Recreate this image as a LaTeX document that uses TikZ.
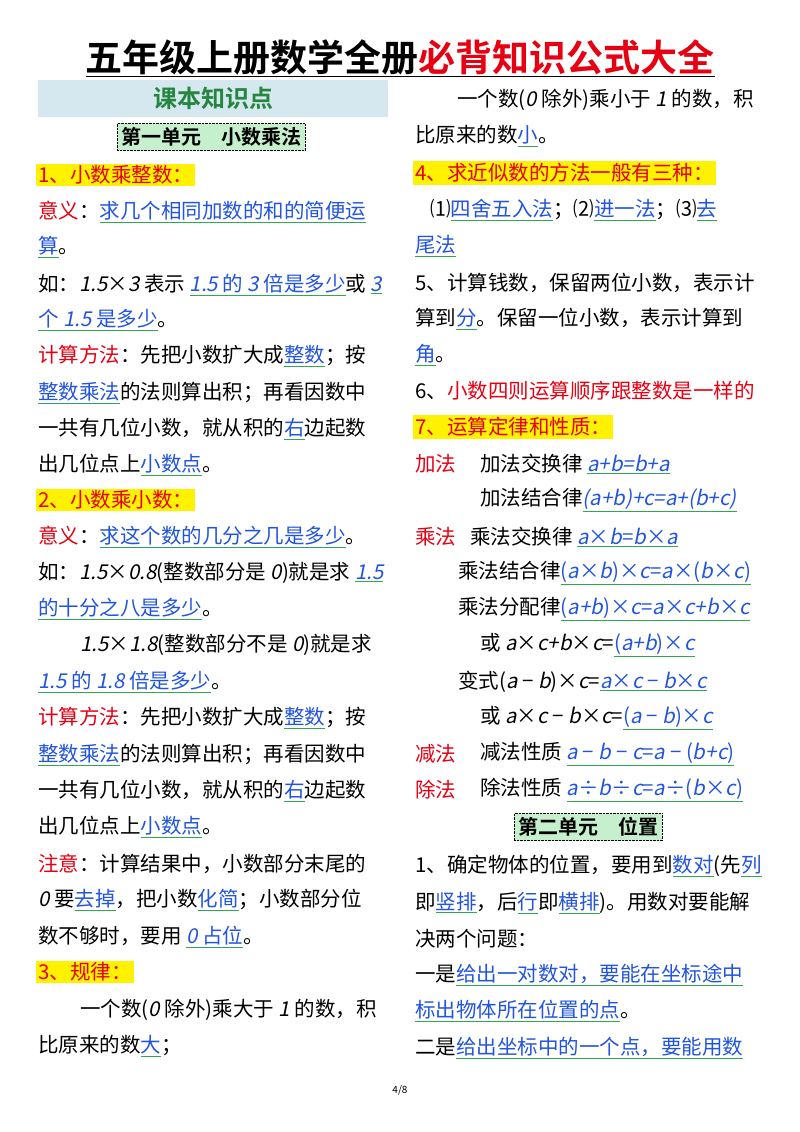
\documentclass[tikz,border=0pt]{standalone}
\usepackage{fontspec}
\setmainfont{Noto Sans CJK SC}[ItalicFont=Noto Sans CJK SC, ItalicFeatures={FakeSlant=0.2}, BoldFont=Noto Sans CJK SC Bold]
\definecolor{rd}{HTML}{E60012}
\definecolor{ansb}{HTML}{2255DD}
\definecolor{ulg}{HTML}{2FA84F}
\definecolor{secg}{HTML}{C6EFCE}
\definecolor{lbl}{HTML}{D5E8F0}
\newcommand\ans[1]{\textcolor{ulg}{\underline{\textcolor{ansb}{#1}}}}
\newcommand\R[1]{\textcolor{rd}{#1}}
\newcommand\I[1]{\textit{#1}}
\tikzset{
 txt/.style={anchor=west,inner sep=0pt,font=\fontsize{20.5}{23}\selectfont},
 hl/.style={anchor=west,inner sep=2pt,fill=yellow,text=rd,font=\fontsize{20.5}{23}\selectfont},
 sec/.style={draw,densely dotted,fill=secg,inner sep=4pt,font=\bfseries\fontsize{20}{22}\selectfont},
}
\begin{document}
\begin{tikzpicture}[x=1pt,y=-1pt]
\useasboundingbox (0,0) rectangle (800,1132);
\node[inner sep=0pt,font=\bfseries\fontsize{37}{40}\selectfont] (title) at (400,58) {\underline{五年级上册数学全册\textcolor{rd}{必背知识公式大全}}};
\node[fill=lbl,minimum width=350,minimum height=37,inner sep=0pt,text=ulg!80!black,font=\bfseries\fontsize{24}{26}\selectfont] (kb) at (213,98) {课本知识点};
\node[sec] (s1) at (211,137) {第一单元\quad 小数乘法};
% left column
\node[hl] (a1) at (36,175) {1、小数乘整数：};
\node[txt] (a2) at (38,212) {\R{意义}：\ans{求几个相同加数的和的简便运}};
\node[txt] (a3) at (38,247) {\ans{算}。};
\node[txt] (a4) at (38,285) {如：\I{1.5}×\I{3} 表示 \ans{\I{1.5} 的 \I{3} 倍是多少}或 \ans{\I{3}}};
\node[txt] (a5) at (38,320) {\ans{个 \I{1.5} 是多少}。};
\node[txt] (a6) at (38,356) {\R{计算方法}：先把小数扩大成\ans{整数}；按};
\node[txt] (a7) at (38,393) {\ans{整数乘法}的法则算出积；再看因数中};
\node[txt] (a8) at (38,429) {一共有几位小数，就从积的\ans{右}边起数};
\node[txt] (a9) at (38,465) {出几位点上\ans{小数点}。};
\node[hl] (b1) at (36,500) {2、小数乘小数：};
\node[txt] (b2) at (38,537) {\R{意义}：\ans{求这个数的几分之几是多少}。};
\node[txt] (b3) at (38,573) {如：\I{1.5}×\I{0.8}(整数部分是 \I{0})就是求 \ans{\I{1.5}}};
\node[txt] (b4) at (38,609) {\ans{的十分之八是多少}。};
\node[txt] (b5) at (80,645) {\I{1.5}×\I{1.8}(整数部分不是 \I{0})就是求};
\node[txt] (b6) at (38,682) {\ans{\I{1.5} 的 \I{1.8} 倍是多少}。};
\node[txt] (b7) at (38,718) {\R{计算方法}：先把小数扩大成\ans{整数}；按};
\node[txt] (b8) at (38,755) {\ans{整数乘法}的法则算出积；再看因数中};
\node[txt] (b9) at (38,791) {一共有几位小数，就从积的\ans{右}边起数};
\node[txt] (b10) at (38,827) {出几位点上\ans{小数点}。};
\node[txt] (b11) at (38,864) {\R{注意}：计算结果中，小数部分末尾的};
\node[txt] (b12) at (38,900) {\I{0} 要\ans{去掉}，把小数\ans{化简}；小数部分位};
\node[txt] (b13) at (38,937) {数不够时，要用 \ans{\I{0} 占位}。};
\node[hl] (c1) at (36,972) {3、规律：};
\node[txt] (c2) at (80,1010) {一个数(\I{0} 除外)乘大于 \I{1} 的数，积};
\node[txt] (c3) at (38,1046) {比原来的数\ans{大}；};
% right column
\node[txt] (r1) at (457,100) {一个数(\I{0} 除外)乘小于 \I{1} 的数，积};
\node[txt] (r2) at (415,136) {比原来的数\ans{小}。};
\node[hl] (r3) at (413,173) {4、求近似数的方法一般有三种：};
\node[txt] (r4) at (430,210) {⑴\ans{四舍五入法}；⑵\ans{进一法}；⑶\ans{去}};
\node[txt] (r5) at (415,246) {\ans{尾法}};
\node[txt] (r6) at (415,283) {5、计算钱数，保留两位小数，表示计};
\node[txt] (r7) at (415,319) {算到\ans{分}。保留一位小数，表示计算到};
\node[txt] (r8) at (415,355) {\ans{角}。};
\node[txt] (r9) at (415,391) {6、\R{小数四则运算顺序跟整数是一样的}};
\node[hl] (r10) at (413,427) {7、运算定律和性质：};
\node[txt] (r11a) at (415,464) {\R{加法}};
\node[txt] (r11) at (480,464) {加法交换律 \ans{\I{a+b=b+a}}};
\node[txt] (r12) at (480,500) {加法结合律\ans{\I{(a+b)+c=a+(b+c)}}};
\node[txt] (r13a) at (415,537) {\R{乘法}};
\node[txt] (r13) at (470,537) {乘法交换律 \ans{\I{a}×\I{b}=\I{b}×\I{a}}};
\node[txt] (r14) at (458,573) {乘法结合律\ans{(\I{a}×\I{b})×\I{c}=\I{a}×(\I{b}×\I{c})}};
\node[txt] (r15) at (458,609) {乘法分配律\ans{(\I{a+b})×\I{c}=\I{a}×\I{c+b}×\I{c}}};
\node[txt] (r16) at (480,645) {或 \I{a}×\I{c+b}×\I{c}=\ans{(\I{a+b})×\I{c}}};
\node[txt] (r17) at (458,682) {变式(\I{a} − \I{b})×\I{c}=\ans{\I{a}×\I{c} − \I{b}×\I{c}}};
\node[txt] (r18) at (480,718) {或 \I{a}×\I{c} − \I{b}×\I{c}=\ans{(\I{a} − \I{b})×\I{c}}};
\node[txt] (r19a) at (415,754) {\R{减法}};
\node[txt] (r19) at (480,754) {减法性质 \ans{\I{a} − \I{b} − \I{c}=\I{a} − (\I{b+c})}};
\node[txt] (r20a) at (415,790) {\R{除法}};
\node[txt] (r20) at (480,790) {除法性质 \ans{\I{a}÷\I{b}÷\I{c}=\I{a}÷(\I{b}×\I{c})}};
\node[sec] (s2) at (588,827) {第二单元\quad 位置};
\node[txt] (r21) at (415,866) {1、确定物体的位置，要用到\ans{数对}(先\ans{列}};
\node[txt] (r22) at (415,903) {即\ans{竖排}，后\ans{行}即\ans{横排})。用数对要能解};
\node[txt] (r23) at (415,939) {决两个问题：};
\node[txt] (r24) at (415,975) {一是\ans{给出一对数对，要能在坐标途中}};
\node[txt] (r25) at (415,1011) {\ans{标出物体所在位置的点}。};
\node[txt] (r26) at (415,1048) {二是\ans{给出坐标中的一个点，要能用数}};
\node[inner sep=0pt,font=\fontsize{10}{12}\selectfont] (pg) at (400,1090) {4/8};
\end{tikzpicture}
\end{document}
